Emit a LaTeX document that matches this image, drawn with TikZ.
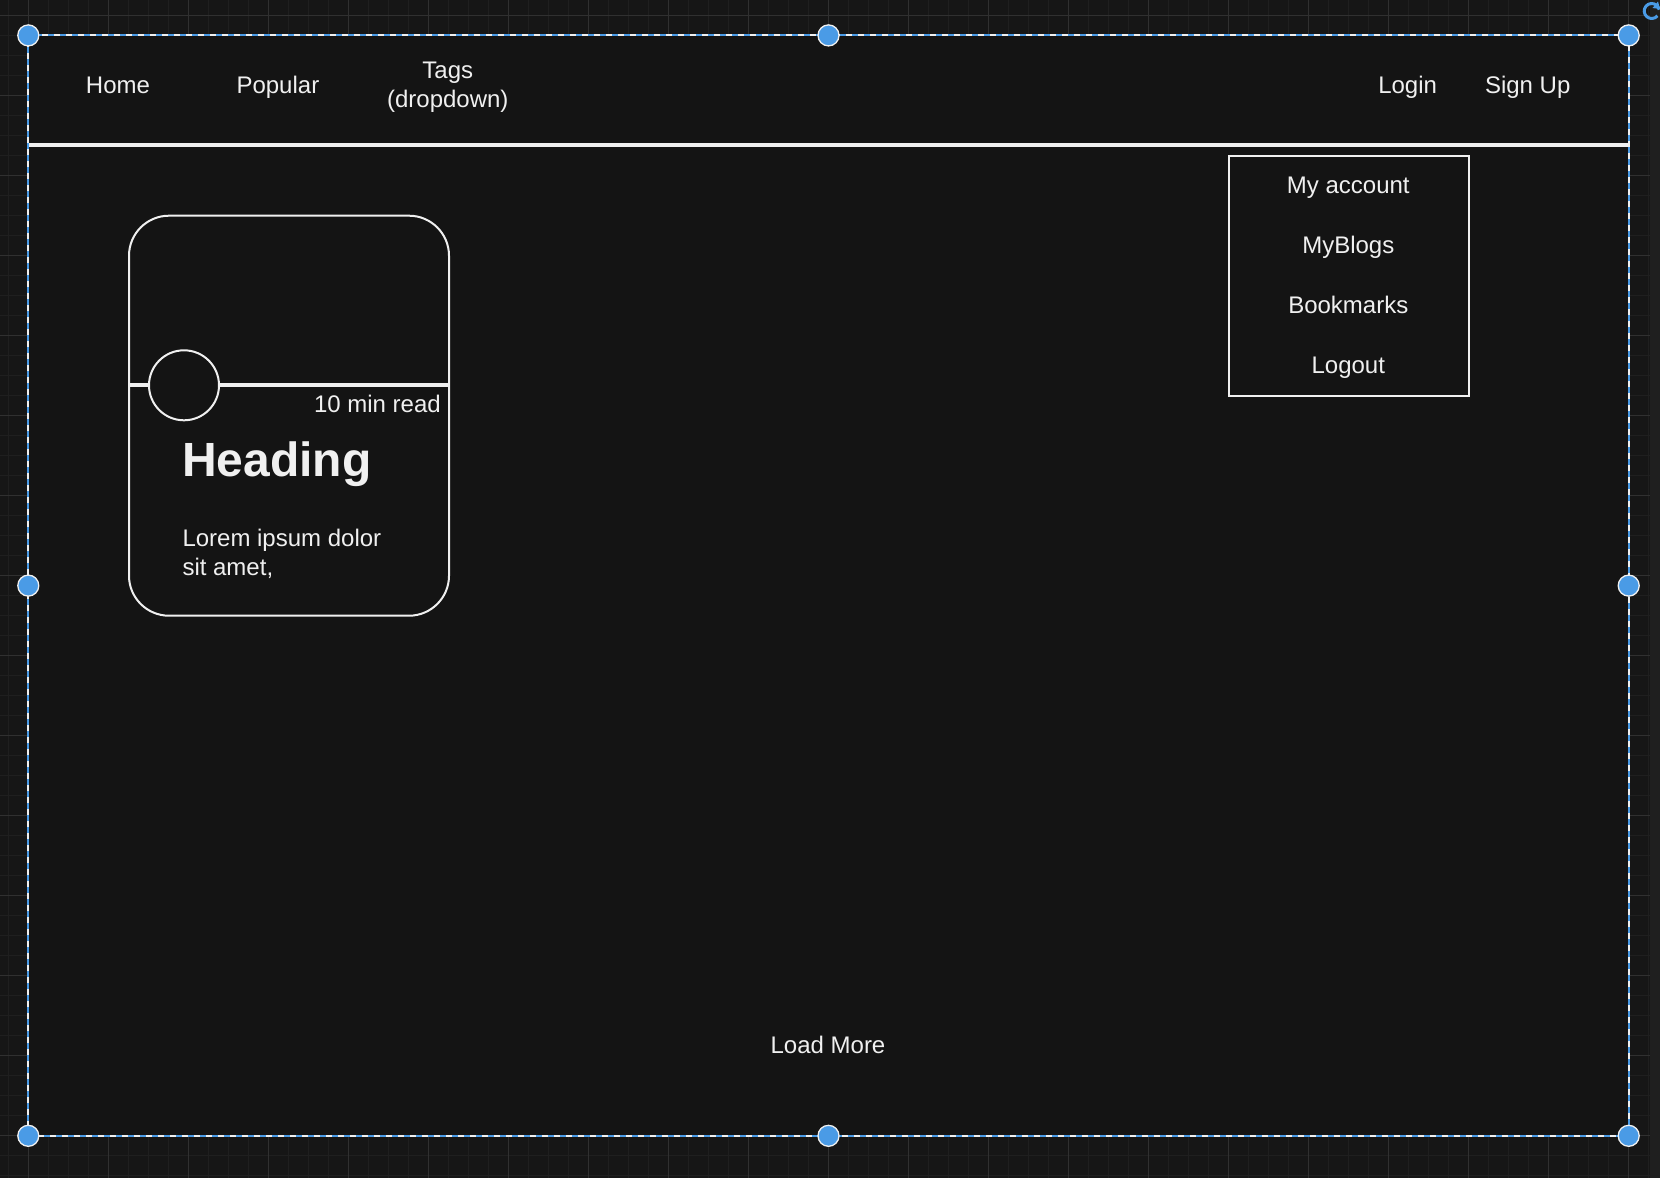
\documentclass[tikz,border=0pt]{standalone}
\usepackage{fontspec}
\setmainfont{Liberation Sans}
\usetikzlibrary{positioning}

\definecolor{backdrop}{HTML}{161616}
\definecolor{canvas}{HTML}{141414}
\definecolor{gridminor}{HTML}{1F1F1F}
\definecolor{gridmajor}{HTML}{303030}
\definecolor{ink}{HTML}{F0F0F0}
\definecolor{selblue}{HTML}{4A9BE6}
\definecolor{scrollbar}{HTML}{1F1F1F}

\newcommand{\uitext}{\fontsize{24}{28.8}\selectfont}
\newcommand{\bigtext}{\fontsize{48}{57.6}\bfseries\selectfont}

\tikzset{
  label/.style = {text=ink, font=\uitext, inner sep=0pt},
  menuitem/.style = {label, text height=17.5pt, text depth=5pt},
  page/.style = {fill=canvas, minimum width=1600pt, minimum height=1100pt, inner sep=0pt},
  handle/.style = {circle, fill=selblue, draw=ink, line width=1.3pt, minimum size=21pt, inner sep=0pt},
  card/.style = {draw=ink, line width=2pt, rounded corners=40pt, minimum width=320pt, minimum height=400pt, inner sep=0pt},
  avatar/.style = {circle, draw=ink, fill=canvas, line width=2pt, minimum size=70pt, inner sep=0pt},
  menubox/.style = {draw=ink, line width=2pt, minimum width=240pt, minimum height=240pt, inner sep=0pt}
}

\begin{document}
\begin{tikzpicture}[x=1pt, y=-1pt, node distance=60pt]
  \useasboundingbox (0,0) rectangle (1660,1178);
  \fill[backdrop] (0,0) rectangle (1660,1178);
  % grid
  \foreach \gx in {8.3,28.3,...,1660} \draw[gridminor, line width=1pt] (\gx,0) -- (\gx,1178);
  \foreach \gy in {15.7,35.7,...,1178} \draw[gridminor, line width=1pt] (0,\gy) -- (1660,\gy);
  \foreach \gx in {28.3,108.3,...,1660} \draw[gridmajor, line width=1pt] (\gx,0) -- (\gx,1178);
  \foreach \gy in {15.7,95.7,...,1178} \draw[gridmajor, line width=1pt] (0,\gy) -- (1660,\gy);
  \fill[scrollbar] (1650,0) rectangle (1660,1178);

  \node[page] (page) at (828.5,585.6) {};

  % navigation bar
  \node[label, anchor=base] (home) at (118,93.3) {Home};
  \node[label, anchor=base] (popular) at (277.9,93.3) {Popular};
  \node[label, anchor=base, align=center] (tags) at (447.8,107.5) {Tags\\(dropdown)};
  \node[label, anchor=base] (login) at (1407.6,93.3) {Login};
  \node[label, anchor=base] (signup) at (1527.7,93.3) {Sign Up};
  \coordinate (navline) at (0,145);
  \draw[ink, line width=4pt] (page.west |- navline) -- (page.east |- navline);

  % account dropdown
  \node[menubox] (menu) at (1349,276) {};
  \node[menuitem] (account) at (1348.3,186.9) {My account};
  \node[menuitem] (myblogs) [below of=account] {MyBlogs};
  \node[menuitem] (bookmarks) [below of=myblogs] {Bookmarks};
  \node[menuitem] (logout) [below of=bookmarks] {Logout};

  % blog card
  \node[card] (card) at (289,415.7) {};
  \coordinate (avatarpos) at (184,385.3);
  \draw[ink, line width=4pt] (card.west |- avatarpos) -- (card.east |- avatarpos);
  \node[avatar] (avatar) at (avatarpos) {};
  \node[label, anchor=base east] (readtime) at (441,412.7) {10 min read};
  \node[label, anchor=base west, font=\bigtext] (heading) at (182,476) {Heading};
  \node[label, anchor=base west, align=left] (excerpt) at (182.3,575.5) {Lorem ipsum dolor\\sit amet,};

  \node[label, anchor=base] (loadmore) at (828,1053.3) {Load More};

  % selection frame
  \draw[ink, line width=2pt] (page.north west) rectangle (page.south east);
  \draw[selblue, line width=2pt, dash pattern=on 6pt off 6pt] (page.north west) rectangle (page.south east);
  \foreach \a in {north west, north, north east, west, east, south west, south, south east}
    \node[handle] at (page.\a) {};
  \draw[selblue, line width=3pt] (1651.7,11) ++(40:7.5) arc[start angle=40, end angle=350, radius=7.5];
  \fill[selblue] (1658,1.5) -- (1660,9) -- (1652.5,8) -- cycle;
\end{tikzpicture}
\end{document}
